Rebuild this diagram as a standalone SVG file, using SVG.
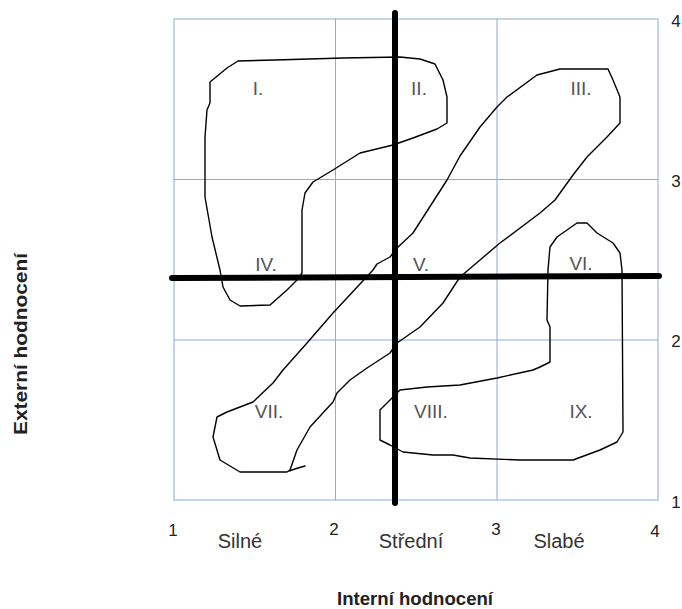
<svg xmlns="http://www.w3.org/2000/svg" width="682" height="609" viewBox="0 0 682 609">
  <style>
    .grid { stroke: #8eaad6; stroke-width: 1; fill: none; }
    .frame { stroke: #c5d5e8; stroke-width: 2; fill: none; }
    .axis { stroke: #000; stroke-width: 6; stroke-linecap: round; }
    .zone { stroke: #000; stroke-width: 1.4; fill: none; stroke-linejoin: round; stroke-linecap: round; }
    .roman { font-family: "Liberation Sans", Arial, sans-serif; font-size: 19px; fill: #555; text-anchor: middle; }
    .num { font-family: "Liberation Sans", Arial, sans-serif; font-size: 17px; fill: #222; text-anchor: middle; }
    .lbl { font-family: "Liberation Sans", Arial, sans-serif; font-size: 20px; fill: #333; text-anchor: middle; }
    .title { font-family: "Liberation Sans", Arial, sans-serif; font-size: 18px; font-weight: bold; fill: #222; text-anchor: middle; }
  </style>
  <rect width="682" height="609" fill="#fff"/>

  <!-- 3x3 grid -->
  <g id="grid">
    <rect class="frame" x="174" y="19" width="484" height="481"/>
    <line class="grid" x1="335.5" y1="19" x2="335.5" y2="500"/>
    <line class="grid" x1="497" y1="19" x2="497" y2="500"/>
    <line class="grid" x1="174" y1="179.5" x2="658" y2="179.5"/>
    <line class="grid" x1="174" y1="340" x2="658" y2="340"/>
  </g>

  <!-- hand-drawn strategy zones -->
  <g id="connectors">
    <path id="zone-grow" class="zone" d="M238,61 L275,60 L343,58 L400,57 L420,59 L435,64 L443,80 L447,97 L447,123 L437,129 L413,138 L393,145 L360,153 L333,170 L313,182 L305,193 L302,210 L302,273 L297,280 L287,290 L270,305 L240,306 L230,300 L223,287 L220,270 L212,237 L205,197 L205,137 L207,110 L210,103 L210,82 L227,68 Z"/>
    <path id="zone-hold" class="zone" d="M560,69 L608,69 L613,80 L620,97 L620,123 L607,137 L587,157 L573,175 L555,200 L540,213 L500,243 L480,260 L460,277 L443,303 L420,327 L397,343 L390,353 L367,368 L350,380 L337,393 L333,402 L310,427 L297,450 L290,470 L287,472 L240,472 L220,460 L213,437 L217,417 L227,412 L253,402 L273,383 L283,370 L307,343 L333,313 L373,270 L377,264 L390,257 L397,248 L413,233 L447,180 L460,156 L480,127 L497,107 L507,97 L537,75 Z M289,471 L298,468 L305,466"/>
    <path id="zone-harvest" class="zone" d="M548,270 L550,247 L557,237 L577,223 L587,223 L597,233 L613,243 L620,253 L622,270 L623,432 L617,442 L600,450 L573,460 L520,460 L470,458 L453,455 L433,455 L403,452 L390,445 L380,440 L380,410 L390,400 L400,390 L427,387 L460,385 L497,378 L533,370 L540,367 L550,362 L550,327 L547,320 Z"/>
  </g>

  <!-- heavy dividing axes -->
  <g id="axes">
    <line class="axis" x1="395" y1="13" x2="395" y2="503"/>
    <line class="axis" x1="172" y1="278" x2="659" y2="276"/>
  </g>

  <!-- cell labels -->
  <g id="cell-I"><text class="roman" x="258" y="95">I.</text></g>
  <g id="cell-II"><text class="roman" x="419" y="95">II.</text></g>
  <g id="cell-III"><text class="roman" x="581" y="95">III.</text></g>
  <g id="cell-IV"><text class="roman" x="266" y="271">IV.</text></g>
  <g id="cell-V"><text class="roman" x="421" y="271">V.</text></g>
  <g id="cell-VI"><text class="roman" x="581" y="270">VI.</text></g>
  <g id="cell-VII"><text class="roman" x="269" y="418">VII.</text></g>
  <g id="cell-VIII"><text class="roman" x="431" y="418">VIII.</text></g>
  <g id="cell-IX"><text class="roman" x="581" y="418">IX.</text></g>

  <!-- scales -->
  <g id="x-scale">
    <text class="num" x="173" y="536">1</text>
    <text class="num" x="334" y="535">2</text>
    <text class="num" x="496" y="535">3</text>
    <text class="num" x="655" y="537">4</text>
    <text class="lbl" x="240" y="548">Silné</text>
    <text class="lbl" x="411" y="548">Střední</text>
    <text class="lbl" x="559" y="548">Slabé</text>
  </g>
  <g id="y-scale">
    <text class="num" x="676" y="27">4</text>
    <text class="num" x="676" y="187">3</text>
    <text class="num" x="676" y="347">2</text>
    <text class="num" x="676" y="508">1</text>
  </g>

  <!-- axis titles -->
  <g id="axis-titles">
    <text class="title" x="415" y="605" textLength="156" lengthAdjust="spacingAndGlyphs">Interní hodnocení</text>
    <text class="title" transform="translate(27,344) rotate(-90)" x="0" y="0" textLength="182" lengthAdjust="spacingAndGlyphs">Externí hodnocení</text>
  </g>
</svg>
